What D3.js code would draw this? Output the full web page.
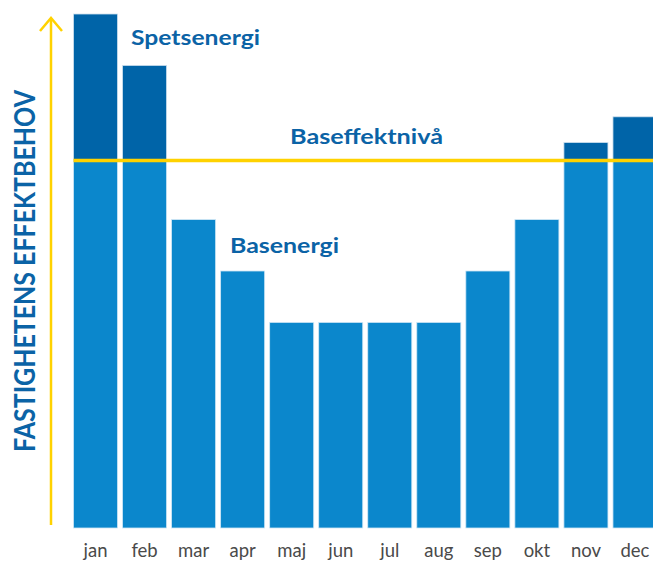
<!DOCTYPE html>
<html>
<head>
<meta charset="utf-8">
<script src="https://cdn.jsdelivr.net/npm/d3@7"></script>
<style>
  body { margin: 0; background: #fff; }
  svg { display: block; }
</style>
</head>
<body>
<script>
// månader och effektbehov (godtyckliga enheter)
var months = ['jan','feb','mar','apr','maj','jun','jul','aug','sep','okt','nov','dec'];
var demand = [10, 9, 6, 5, 4, 4, 4, 4, 5, 6, 7.5, 8];
var baseLevel = [7.15];

var W = 653, H = 563;
var lightBlue = '#0b87cc', darkBlue = '#0064a8', yellow = '#ffd200', textBlue = '#0b63a6';

var svg = d3.select('body').append('svg').attr('width', W).attr('height', H);

var x = d3.scaleBand().domain(months).range([73.5, 657]).paddingInner(5 / 49).paddingOuter(0);
var y = d3.scaleLinear().domain([0, 10]).range([528, 14]);

// basenergi (upp till basnivån)
svg.selectAll('rect.base')
    .data(demand)
    .enter().append('rect')
        .attr('class', 'base')
        .attr('x', function (d, i) { return x(months[i]); })
        .attr('width', x.bandwidth())
        .attr('y', function (d) { return y(Math.min(d, baseLevel[0])); })
        .attr('height', function (d) { return y(0) - y(Math.min(d, baseLevel[0])); })
        .attr('fill', lightBlue)
        .attr('stroke', '#cfe7f6')
        .attr('stroke-width', 0.8);

// spetsenergi (över basnivån)
svg.selectAll('rect.peak')
    .data(demand.filter(function (d) { return d > baseLevel[0]; }))
    .enter().append('rect')
        .attr('class', 'peak')
        .attr('x', function (d) { return x(months[demand.indexOf(d)]); })
        .attr('width', x.bandwidth())
        .attr('y', function (d) { return y(d); })
        .attr('height', function (d) { return y(baseLevel[0]) - y(d); })
        .attr('fill', darkBlue)
        .attr('stroke', '#cfe0ee')
        .attr('stroke-width', 0.8);

// basnivålinje
svg.append('line')
    .attr('x1', x('jan'))
    .attr('x2', W)
    .attr('y1', y(baseLevel[0]))
    .attr('y2', y(baseLevel[0]))
    .attr('stroke', yellow)
    .attr('stroke-width', 3.5);

// y-axelpil
var ax = 51;
svg.append('line')
    .attr('x1', ax).attr('x2', ax)
    .attr('y1', 525).attr('y2', 18)
    .attr('stroke', yellow).attr('stroke-width', 2.5);
svg.append('path')
    .attr('d', 'M' + (ax - 11) + ',31 L' + ax + ',18 L' + (ax + 11) + ',31')
    .attr('fill', 'none')
    .attr('stroke', yellow).attr('stroke-width', 2.5);

// månadsetiketter
svg.selectAll('text.month')
    .data(months)
    .enter().append('text')
        .attr('class', 'month')
        .attr('x', function (d) { return x(d) + x.bandwidth() / 2; })
        .attr('y', 557)
        .attr('text-anchor', 'middle')
        .attr('font-family', 'Lato, sans-serif')
        .attr('font-size', 18.5)
        .attr('fill', '#4a4a4a')
        .text(function (d) { return d; });

// etiketter
var labels = [
  {t: 'Spetsenergi', x: 131, y: 45, w: 129},
  {t: 'Baseffektnivå', x: 290, y: 144, w: 153},
  {t: 'Basenergi', x: 230, y: 253, w: 109}
];
svg.selectAll('text.lbl')
    .data(labels)
    .enter().append('text')
        .attr('class', 'lbl')
        .attr('x', function (d) { return d.x; })
        .attr('y', function (d) { return d.y; })
        .attr('font-family', 'Lato, sans-serif')
        .attr('font-weight', 'bold')
        .attr('font-size', 21)
        .attr('fill', textBlue)
        .attr('textLength', function (d) { return d.w; })
        .attr('lengthAdjust', 'spacingAndGlyphs')
        .text(function (d) { return d.t; });

// y-axelns titel
svg.append('text')
    .attr('transform', 'translate(35,271) rotate(-90)')
    .attr('text-anchor', 'middle')
    .attr('font-family', 'Lato, sans-serif')
    .attr('font-weight', 'bold')
    .attr('font-size', 28)
    .attr('fill', textBlue)
    .attr('textLength', 362)
    .attr('lengthAdjust', 'spacingAndGlyphs')
    .text('FASTIGHETENS EFFEKTBEHOV');
</script>
</body>
</html>
